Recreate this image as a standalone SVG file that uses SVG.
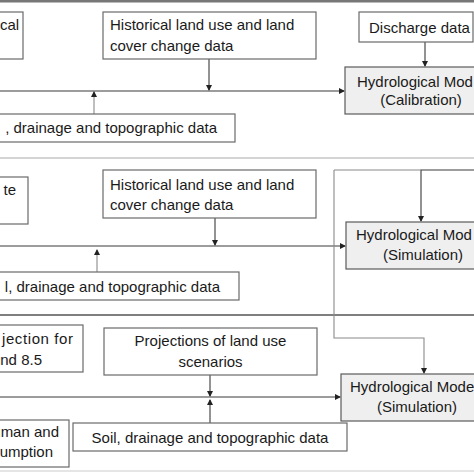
<svg xmlns="http://www.w3.org/2000/svg" width="474" height="474" viewBox="0 0 474 474">
<style>
text{font-family:"Liberation Sans",Arial,sans-serif;font-size:15px;fill:#1a1a1a}
.box{fill:#fff;stroke:#6a6a6a;stroke-width:1.2}
.hyd{fill:#efefef;stroke:#5a5a5a;stroke-width:1.2}
.c{fill:none;stroke:#3a3a3a;stroke-width:1.1}
.g{fill:none;stroke:#8a8a8a;stroke-width:1.1}
.e{text-anchor:end}
.m{text-anchor:middle}
</style>
<defs>
<marker id="ah" markerWidth="6" markerHeight="6" refX="5" refY="3" orient="auto" markerUnits="userSpaceOnUse">
<path d="M0,0 L6,3 L0,6 Z" fill="#222"/>
</marker>
</defs>
<rect x="0" y="0" width="474" height="474" fill="#fff"/>
<g id="frames">
<line x1="0" y1="1" x2="474" y2="1" stroke="#777" stroke-width="3"/>
<line x1="0" y1="158" x2="474" y2="158" stroke="#aaa" stroke-width="1.2"/>
<line x1="0" y1="315" x2="474" y2="315" stroke="#555" stroke-width="1.4"/>
<line x1="0" y1="471" x2="474" y2="471" stroke="#ccc" stroke-width="1.2"/>
</g>
<g id="connectors">
<line class="c" x1="209" y1="59" x2="209" y2="90" marker-end="url(#ah)"/>
<line class="c" x1="0" y1="91" x2="344" y2="91" marker-end="url(#ah)"/>
<line class="g" x1="94" y1="114" x2="94" y2="92" marker-end="url(#ah)"/>
<line class="c" x1="425" y1="42" x2="425" y2="66" marker-end="url(#ah)"/>
<line class="c" x1="215" y1="218" x2="215" y2="245" marker-end="url(#ah)"/>
<line class="c" x1="0" y1="246" x2="345" y2="246" marker-end="url(#ah)"/>
<line class="g" x1="97" y1="272" x2="97" y2="250" marker-end="url(#ah)"/>
<polyline class="c" points="474,170 421,170 421,221" marker-end="url(#ah)"/>
<polyline class="g" points="334,170 334,338 424,338 424,373" marker-end="url(#ah)"/>
<line class="g" x1="334" y1="170" x2="421" y2="170"/>
<line class="c" x1="210" y1="375" x2="210" y2="396" marker-end="url(#ah)"/>
<line class="c" x1="0" y1="397" x2="340" y2="397" marker-end="url(#ah)"/>
<line class="c" x1="210" y1="423" x2="210" y2="400" marker-end="url(#ah)"/>
</g>
<g id="n1-left"><rect class="box" x="-10" y="12" width="33" height="47"/><text x="0" y="30">cal</text></g>
<g id="n1-hist"><rect class="box" x="103" y="12" width="213" height="47"/><text x="110" y="30">Historical land use and land</text><text x="110" y="51">cover change data</text></g>
<g id="n1-discharge"><rect class="box" x="359" y="12" width="114" height="30"/><text x="369" y="33">Discharge data</text></g>
<g id="n1-hyd"><rect class="hyd" x="345" y="67" width="152" height="47"/><text x="357" y="87">Hydrological Mod</text><text class="m" x="421" y="105">(Calibration)</text></g>
<g id="n1-soil"><rect class="box" x="-10" y="114" width="245" height="28"/><text class="e" x="217" y="133">, drainage and topographic data</text></g>
<g id="n2-left"><rect class="box" x="-10" y="177" width="38" height="47"/><text class="e" x="16" y="195">te</text></g>
<g id="n2-hist"><rect class="box" x="103" y="170" width="213" height="48"/><text x="110" y="190">Historical land use and land</text><text x="110" y="210">cover change data</text></g>
<g id="n2-hyd"><rect class="hyd" x="346" y="222" width="152" height="47"/><text x="356" y="240">Hydrological Mod</text><text class="m" x="423" y="260">(Simulation)</text></g>
<g id="n2-soil"><rect class="box" x="-10" y="272" width="249" height="28"/><text class="e" x="220" y="292">l, drainage and topographic data</text></g>
<g id="n3-left"><rect class="box" x="-10" y="325" width="93" height="47"/><text x="2" y="344" textLength="71">jection for</text><text class="e" x="42" y="365">nd 8.5</text></g>
<g id="n3-proj"><rect class="box" x="104" y="328" width="213" height="47"/><text class="m" x="210.5" y="346">Projections of land use</text><text class="m" x="210.5" y="367">scenarios</text></g>
<g id="n3-hyd"><rect class="hyd" x="341" y="374" width="152" height="47"/><text x="350" y="392">Hydrological Mode</text><text class="m" x="417" y="412">(Simulation)</text></g>
<g id="n3-left2"><rect class="box" x="-10" y="420" width="79" height="47"/><text class="e" x="59" y="437">man and</text><text class="e" x="53" y="457">umption</text></g>
<g id="n3-soil"><rect class="box" x="73" y="423" width="274" height="28"/><text class="m" x="210" y="443">Soil, drainage and topographic data</text></g>
</svg>
